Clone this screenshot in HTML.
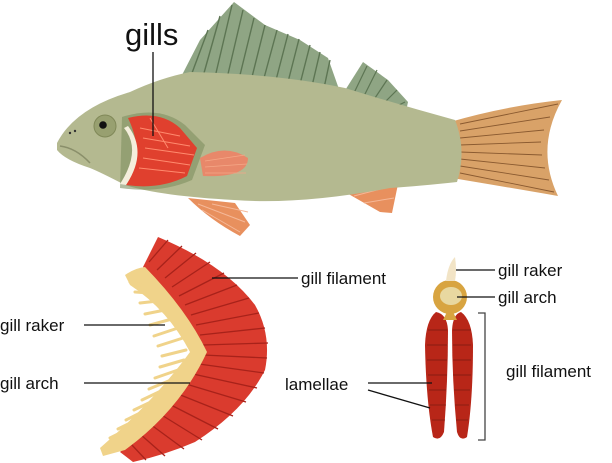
<!DOCTYPE html>
<html><head><meta charset="utf-8"><style>
html,body{margin:0;padding:0;background:#fff}
svg{display:block}
text{font-family:"Liberation Sans",sans-serif;fill:#111}
</style></head><body>
<svg width="612" height="463" viewBox="0 0 612 463" xmlns="http://www.w3.org/2000/svg">
<!-- dorsal fins -->
<path d="M182,75 L200,40 L234,2 L265,25 L300,40 L328,58 L340,92 Z" fill="#8fa584"/>
<g stroke="#5d7553" stroke-width="1.4">
<line x1="192" y1="73" x2="208" y2="30"/><line x1="204" y1="73" x2="220" y2="16"/><line x1="216" y1="73" x2="232" y2="5"/><line x1="228" y1="74" x2="243" y2="10"/><line x1="240" y1="75" x2="254" y2="18"/><line x1="252" y1="77" x2="265" y2="25"/><line x1="264" y1="78" x2="277" y2="30"/><line x1="276" y1="80" x2="288" y2="34"/><line x1="288" y1="82" x2="299" y2="39"/><line x1="300" y1="84" x2="310" y2="45"/><line x1="312" y1="86" x2="320" y2="52"/><line x1="324" y1="88" x2="330" y2="60"/>
</g>
<path d="M344,92 L363,62 L388,80 L408,102 L405,116 L370,105 Z" fill="#8fa584"/>
<g stroke="#5d7553" stroke-width="1.2"><line x1="353" y1="95" x2="367" y2="66"/><line x1="363" y1="98" x2="377" y2="70"/><line x1="373" y1="101" x2="387" y2="80"/><line x1="383" y1="104" x2="397" y2="90"/><line x1="393" y1="108" x2="405" y2="102"/></g>
<!-- tail -->
<path d="M450,122 Q505,106 562,100 Q535,148 558,196 Q500,186 452,178 Z" fill="#d9a268"/>
<g stroke="#8a5a30" stroke-width=".9" fill="none"><path d="M460,124 L558,104"/><path d="M460,131 L550,117"/><path d="M460,138 L544,130"/><path d="M460,145 L541,142"/><path d="M460,152 L542,155"/><path d="M460,159 L545,168"/><path d="M460,166 L549,180"/><path d="M460,173 L554,192"/></g>
<!-- anal / pelvic fins -->
<path d="M338,188 L402,165 L392,213 L380,212 Z" fill="#e8905e"/>
<g stroke="#f5b898" stroke-width="1"><line x1="346" y1="190" x2="398" y2="172"/><line x1="354" y1="196" x2="396" y2="185"/><line x1="364" y1="203" x2="394" y2="198"/></g>
<path d="M188,198 L235,203 L250,225 L240,236 Q210,220 188,198 Z" fill="#e8905e"/>
<g stroke="#f5b898" stroke-width="1"><line x1="198" y1="204" x2="245" y2="222"/><line x1="202" y1="210" x2="240" y2="232"/><line x1="212" y1="204" x2="248" y2="212"/></g>
<!-- body -->
<path d="M57,143 Q75,108 130,92 Q160,78 190,72 Q280,74 345,88 Q400,105 455,120 Q467,150 457,182 Q420,186 390,188 Q300,205 234,200 Q160,196 125,185 Q100,172 90,168 Q65,160 57,150 Z" fill="#b4b990"/>
<path d="M60,146 Q76,148 90,163" stroke="#8a8f6a" stroke-width="1.5" fill="none"/>
<!-- pectoral fin -->
<path d="M200,158 Q225,143 248,158 Q248,178 203,176 Z" fill="#e8886a"/>
<g stroke="#f5a888" stroke-width=".8"><line x1="205" y1="161" x2="245" y2="155"/><line x1="205" y1="167" x2="247" y2="164"/><line x1="205" y1="173" x2="246" y2="173"/></g>
<!-- gill area -->
<path d="M122,117 Q160,105 185,125 L205,145 L192,180 Q160,194 120,188 Z" fill="#7f9060" opacity=".6"/>
<path d="M128,118 Q160,110 180,128 L197,148 L187,176 Q160,190 126,185 Q146,155 128,118 Z" fill="#e0402e"/>
<g stroke="#ff8a6e" stroke-width="1"><line x1="140" y1="128" x2="180" y2="136"/><line x1="143" y1="138" x2="190" y2="146"/><line x1="145" y1="148" x2="194" y2="155"/><line x1="143" y1="158" x2="190" y2="165"/><line x1="139" y1="168" x2="185" y2="173"/><line x1="150" y1="118" x2="168" y2="148"/></g>
<path d="M124,128 Q142,150 120,184 L126,185 Q148,152 128,126 Z" fill="#f4eedc"/>
<circle cx="105" cy="126" r="11" fill="#98a070" stroke="#808858"/>
<circle cx="103" cy="125" r="3.8" fill="#111"/>
<circle cx="70" cy="133" r="1.2" fill="#333"/><circle cx="75" cy="131" r="1.2" fill="#333"/>
<!-- gills label -->
<text x="125" y="45" font-size="31">gills</text>
<line x1="153" y1="52" x2="153" y2="136" stroke="#111" stroke-width="1.3"/>
<!-- bottom left arch -->
<path d="M158,237 Q225,265 255,305 Q272,335 265,370 Q245,410 195,442 Q165,455 133,462 L120,452 Q175,405 204,352 Q185,310 143,267 Z" fill="#da3b2e"/>
<g stroke="#a8221a" stroke-width="1.3">
<line x1="149" y1="262" x2="168" y2="240"/><line x1="157" y1="270" x2="182" y2="246"/><line x1="165" y1="278" x2="196" y2="253"/><line x1="172" y1="287" x2="210" y2="262"/><line x1="179" y1="296" x2="224" y2="273"/><line x1="185" y1="305" x2="237" y2="285"/><line x1="191" y1="315" x2="249" y2="298"/><line x1="196" y1="325" x2="259" y2="313"/><line x1="200" y1="335" x2="265" y2="328"/><line x1="203" y1="345" x2="268" y2="343"/><line x1="203" y1="355" x2="267" y2="358"/><line x1="199" y1="364" x2="264" y2="373"/><line x1="193" y1="374" x2="257" y2="388"/><line x1="186" y1="384" x2="246" y2="402"/><line x1="178" y1="394" x2="233" y2="416"/><line x1="169" y1="404" x2="218" y2="429"/><line x1="160" y1="414" x2="202" y2="440"/><line x1="150" y1="424" x2="184" y2="449"/><line x1="140" y1="434" x2="165" y2="456"/><line x1="131" y1="444" x2="146" y2="460"/>
</g>
<path d="M125,275 Q135,268 145,267 Q187,310 207,352 Q180,410 125,450 L103,456 L100,448 Q155,400 190,352 Q168,310 130,285 Z" fill="#f0d38a"/>
<g stroke="#f0d38a" stroke-width="3" stroke-linecap="round">
<line x1="142" y1="285" x2="130" y2="282"/><line x1="150" y1="293" x2="135" y2="292"/><line x1="158" y1="301" x2="140" y2="303"/><line x1="165" y1="310" x2="145" y2="314"/><line x1="172" y1="319" x2="150" y2="325"/><line x1="178" y1="328" x2="154" y2="336"/><line x1="183" y1="338" x2="158" y2="346"/><line x1="186" y1="350" x2="162" y2="356"/><line x1="184" y1="360" x2="160" y2="367"/><line x1="178" y1="370" x2="155" y2="378"/><line x1="171" y1="380" x2="149" y2="389"/><line x1="163" y1="390" x2="142" y2="400"/><line x1="155" y1="400" x2="134" y2="410"/><line x1="146" y1="410" x2="126" y2="420"/><line x1="136" y1="420" x2="118" y2="429"/><line x1="126" y1="430" x2="110" y2="438"/>
</g>
<!-- right cross section -->
<path d="M436,312 Q426,320 425,345 Q426,400 433,437 Q440,442 444,432 Q448,380 448,330 Q447,314 436,312 Z" fill="#b82618"/>
<path d="M461,312 Q472,320 473,345 Q473,400 467,437 Q460,442 457,432 Q452,380 452,330 Q453,314 461,312 Z" fill="#b82618"/>
<g stroke="#7a1a10" stroke-width=".7">
<line x1="428" y1="330" x2="447" y2="330"/><line x1="427" y1="345" x2="447" y2="345"/><line x1="427" y1="360" x2="447" y2="360"/><line x1="428" y1="375" x2="447" y2="375"/><line x1="429" y1="390" x2="446" y2="390"/><line x1="430" y1="405" x2="446" y2="405"/><line x1="432" y1="420" x2="445" y2="420"/>
<line x1="453" y1="330" x2="471" y2="330"/><line x1="453" y1="345" x2="471" y2="345"/><line x1="453" y1="360" x2="471" y2="360"/><line x1="453" y1="375" x2="471" y2="375"/><line x1="454" y1="390" x2="470" y2="390"/><line x1="455" y1="405" x2="469" y2="405"/><line x1="456" y1="420" x2="468" y2="420"/>
</g>
<path d="M443,320 L457,320 L450,306 Z" fill="#d8a440"/>
<circle cx="450" cy="297" r="17" fill="#d8a440"/>
<ellipse cx="451" cy="296" rx="11" ry="9" fill="#e8d8a0"/>
<path d="M446,281 Q448,264 455,257 Q457,270 455,281 Z" fill="#f2e4c6"/>
<path d="M478,313 H485 V440 H478" fill="none" stroke="#444" stroke-width="1.3"/>
<!-- label lines -->
<g stroke="#111" stroke-width="1.3">
<line x1="212" y1="278" x2="298" y2="278"/>
<line x1="84" y1="325" x2="165" y2="325"/>
<line x1="84" y1="383" x2="190" y2="383"/>
<line x1="456" y1="270" x2="495" y2="270"/>
<line x1="457" y1="297" x2="495" y2="297"/>
<line x1="368" y1="383" x2="432" y2="383"/>
<line x1="368" y1="390" x2="430" y2="408"/>
</g>
<g font-size="17">
<text x="301" y="284">gill filament</text>
<text x="0" y="331">gill raker</text>
<text x="0" y="389">gill arch</text>
<text x="498" y="276">gill raker</text>
<text x="498" y="303">gill arch</text>
<text x="285" y="390">lamellae</text>
<text x="506" y="377">gill filament</text>
</g>
</svg>
</body></html>
